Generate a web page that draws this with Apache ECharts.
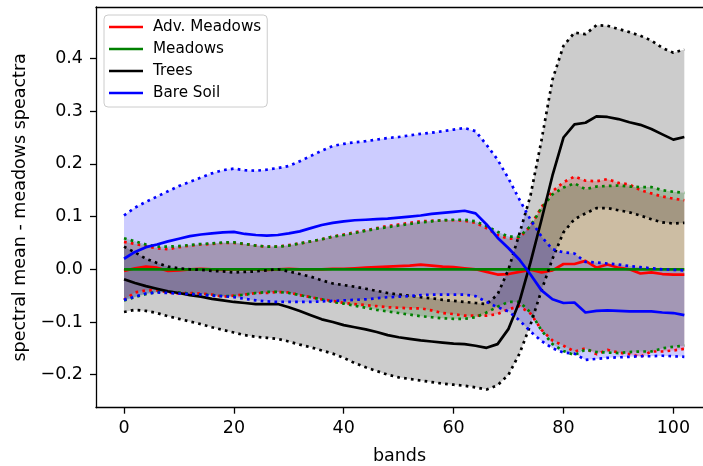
<!DOCTYPE html>
<html><head><meta charset="utf-8">
<script src="https://cdn.jsdelivr.net/npm/echarts@6/dist/echarts.min.js"></script>
<style>html,body{margin:0;padding:0;background:#fff;overflow:hidden}#c{width:703px;height:466px}</style>
</head><body><div id="c"></div>
<script>
const bands = [0,2,4,6,8,10,12,14,16,18,20,22,24,26,28,30,32,34,36,38,40,42,44,46,48,50,52,54,56,58,60,62,64,66,68,70,72,74,76,78,80,82,84,86,88,90,92,94,96,98,100,102];

const advMean = [-0.003,0.002,0.005,0.003,-0.003,-0.002,0.000,0.001,0.000,-0.001,0.000,0.000,0.000,-0.001,0.000,0.001,0.000,0.000,0.000,0.001,0.001,0.002,0.003,0.004,0.005,0.006,0.007,0.009,0.007,0.005,0.004,0.002,0.000,-0.005,-0.010,-0.009,-0.005,-0.001,-0.006,-0.002,0.010,0.010,0.016,0.003,0.009,0.003,0.000,-0.008,-0.006,-0.009,-0.010,-0.010];
const advUpper = [0.052,0.048,0.044,0.040,0.038,0.042,0.045,0.047,0.048,0.050,0.050,0.048,0.045,0.043,0.043,0.046,0.049,0.053,0.057,0.062,0.066,0.070,0.074,0.078,0.082,0.085,0.088,0.091,0.092,0.093,0.093,0.092,0.088,0.078,0.065,0.058,0.060,0.082,0.118,0.148,0.165,0.176,0.168,0.167,0.171,0.164,0.161,0.150,0.144,0.138,0.134,0.131];
const advLower = [-0.058,-0.044,-0.040,-0.040,-0.044,-0.046,-0.045,-0.046,-0.048,-0.052,-0.050,-0.048,-0.045,-0.045,-0.043,-0.044,-0.049,-0.053,-0.057,-0.060,-0.064,-0.066,-0.068,-0.070,-0.072,-0.073,-0.074,-0.074,-0.078,-0.083,-0.085,-0.088,-0.088,-0.088,-0.085,-0.076,-0.070,-0.084,-0.115,-0.135,-0.145,-0.156,-0.150,-0.161,-0.153,-0.158,-0.161,-0.166,-0.156,-0.156,-0.154,-0.151];

const meadowsMean = [0,0,0,0,0,0,0,0,0,0,0,0,0,0,0,0,0,0,0,0,0,0,0,0,0,0,0,0,0,0,0,0,0,0,0,0,0,0,0,0,0,0,0,0,0,0,0,0,0,0,0,0];
const meadowsUpper = [0.059,0.053,0.047,0.043,0.043,0.044,0.046,0.048,0.049,0.051,0.051,0.048,0.045,0.043,0.043,0.045,0.049,0.053,0.057,0.062,0.065,0.069,0.073,0.077,0.080,0.083,0.086,0.089,0.091,0.093,0.094,0.094,0.091,0.082,0.071,0.062,0.062,0.082,0.116,0.142,0.155,0.163,0.152,0.157,0.158,0.159,0.157,0.156,0.156,0.150,0.147,0.145];
const meadowsLower = [-0.059,-0.053,-0.047,-0.043,-0.043,-0.044,-0.046,-0.048,-0.049,-0.051,-0.051,-0.048,-0.045,-0.043,-0.043,-0.045,-0.049,-0.053,-0.057,-0.062,-0.065,-0.069,-0.073,-0.077,-0.080,-0.083,-0.086,-0.089,-0.091,-0.093,-0.094,-0.094,-0.091,-0.082,-0.071,-0.062,-0.062,-0.082,-0.116,-0.142,-0.155,-0.163,-0.152,-0.157,-0.158,-0.159,-0.157,-0.156,-0.156,-0.150,-0.147,-0.145];

const treesMean = [-0.019,-0.026,-0.032,-0.037,-0.042,-0.045,-0.049,-0.052,-0.056,-0.059,-0.062,-0.064,-0.066,-0.066,-0.066,-0.072,-0.079,-0.087,-0.095,-0.100,-0.106,-0.110,-0.114,-0.119,-0.125,-0.129,-0.132,-0.135,-0.137,-0.139,-0.141,-0.142,-0.145,-0.149,-0.142,-0.113,-0.061,0.013,0.094,0.178,0.250,0.275,0.278,0.290,0.289,0.285,0.279,0.274,0.266,0.256,0.246,0.251];
const treesUpper = [0.043,0.032,0.020,0.012,0.005,0.002,0.000,-0.001,-0.003,-0.004,-0.006,-0.005,-0.004,-0.002,0.000,-0.004,-0.009,-0.014,-0.021,-0.027,-0.030,-0.033,-0.037,-0.041,-0.045,-0.048,-0.050,-0.053,-0.055,-0.058,-0.060,-0.062,-0.064,-0.066,-0.048,0.000,0.068,0.140,0.245,0.360,0.424,0.449,0.446,0.463,0.462,0.456,0.450,0.443,0.434,0.420,0.411,0.417];
const treesLower = [-0.081,-0.077,-0.079,-0.083,-0.089,-0.094,-0.099,-0.104,-0.110,-0.115,-0.120,-0.125,-0.128,-0.130,-0.132,-0.137,-0.143,-0.148,-0.154,-0.160,-0.168,-0.178,-0.186,-0.193,-0.200,-0.205,-0.208,-0.211,-0.214,-0.217,-0.219,-0.221,-0.224,-0.228,-0.220,-0.200,-0.160,-0.105,-0.040,0.020,0.070,0.095,0.106,0.116,0.116,0.112,0.108,0.102,0.095,0.089,0.087,0.088];

const soilMean = [0.020,0.033,0.042,0.047,0.053,0.058,0.063,0.066,0.068,0.070,0.071,0.067,0.065,0.064,0.065,0.068,0.072,0.078,0.084,0.088,0.091,0.093,0.094,0.095,0.096,0.098,0.100,0.102,0.105,0.107,0.109,0.111,0.106,0.085,0.060,0.040,0.018,-0.010,-0.040,-0.057,-0.064,-0.063,-0.082,-0.079,-0.078,-0.079,-0.080,-0.080,-0.080,-0.082,-0.083,-0.087];
const soilUpper = [0.102,0.117,0.128,0.138,0.148,0.158,0.166,0.174,0.182,0.188,0.191,0.188,0.187,0.189,0.192,0.196,0.205,0.215,0.225,0.234,0.238,0.241,0.243,0.246,0.249,0.251,0.254,0.257,0.259,0.262,0.265,0.268,0.262,0.236,0.208,0.172,0.132,0.094,0.062,0.038,0.032,0.030,0.014,0.013,0.011,0.009,0.006,0.004,0.002,0.000,-0.001,-0.002];
const soilLower = [-0.058,-0.052,-0.046,-0.044,-0.045,-0.046,-0.047,-0.048,-0.050,-0.051,-0.053,-0.056,-0.059,-0.061,-0.062,-0.062,-0.062,-0.062,-0.061,-0.060,-0.059,-0.058,-0.057,-0.055,-0.053,-0.052,-0.051,-0.049,-0.048,-0.048,-0.048,-0.048,-0.051,-0.062,-0.072,-0.080,-0.097,-0.118,-0.136,-0.150,-0.158,-0.160,-0.172,-0.170,-0.168,-0.167,-0.166,-0.165,-0.165,-0.164,-0.165,-0.166];

const classNames = ['Adv. Meadows', 'Meadows', 'Trees', 'Bare Soil'];
const xTicks = [0, 20, 40, 60, 80, 100];
const yTicks = [-0.2, -0.1, 0.0, 0.1, 0.2, 0.3, 0.4];
const xLabel = 'bands';
const yLabel = 'spectral mean - meadows speactra';

const FONT = 'DejaVu Sans';
const classes = [
  {name: classNames[0], mean: advMean, upper: advUpper, lower: advLower, color: '#ff0000', fill: 'rgba(255,0,0,0.2)'},
  {name: classNames[1], mean: meadowsMean, upper: meadowsUpper, lower: meadowsLower, color: '#008000', fill: 'rgba(0,128,0,0.2)'},
  {name: classNames[2], mean: treesMean, upper: treesUpper, lower: treesLower, color: '#000000', fill: 'rgba(0,0,0,0.2)'},
  {name: classNames[3], mean: soilMean, upper: soilUpper, lower: soilLower, color: '#0000ff', fill: 'rgba(0,0,255,0.2)'}
];

function pairs(vals) { return bands.map((b, i) => [b, vals[i]]); }
function bandSeries(c) {
  return {
    type: 'custom', name: c.name + ' band', silent: true, z: 1,
    data: [[bands[0], c.lower[0]]], encode: {x: 0, y: 1},
    renderItem: (params, api) => {
      const pts = [];
      for (let i = 0; i < bands.length; i++) pts.push(api.coord([bands[i], c.upper[i]]));
      for (let i = bands.length - 1; i >= 0; i--) pts.push(api.coord([bands[i], c.lower[i]]));
      return {type: 'polygon', shape: {points: pts}, style: {fill: c.fill, stroke: null}};
    }
  };
}
function lineSeries(name, vals, color, dotted) {
  return {
    type: 'line', name: name, data: pairs(vals), showSymbol: false, symbol: 'none', silent: true, z: 2,
    itemStyle: {color: color},
    lineStyle: {color: color, width: 2.7, type: dotted ? [2.7, 4.2] : 'solid', cap: 'butt', join: 'round'}
  };
}

const series = [];
classes.forEach(c => series.push(bandSeries(c)));
classes.forEach(c => {
  series.push(lineSeries(c.name, c.mean, c.color, false));
  series.push(lineSeries(c.name + ' upper', c.upper, c.color, true));
  series.push(lineSeries(c.name + ' lower', c.lower, c.color, true));
});

const fmtY = v => (v < -1e-9 ? '\u2212' : '') + Math.abs(v).toFixed(1);
const axisText = {fontFamily: FONT, fontSize: 17.5, color: '#000'};
// visible part of the axes: the plot continues past the right edge of the picture
const xMin = -5.1, xMax = 105.4;

const chart = echarts.init(document.getElementById('c'), null, {renderer: 'canvas'});
chart.setOption({
  animation: false,
  backgroundColor: '#ffffff',
  grid: {left: 96, top: 7, width: 607, height: 400.7, outerBoundsMode: 'none', containLabel: false},
  legend: {
    data: classNames, orient: 'vertical', left: 104, top: 15,
    icon: 'rect', itemWidth: 34, itemHeight: 2.7, itemGap: 0,
    padding: [1, 6, 3, 5],
    backgroundColor: 'rgba(255,255,255,0.8)', borderColor: '#cccccc', borderWidth: 1, borderRadius: 4,
    textStyle: {fontFamily: FONT, fontSize: 15.2, color: '#000', lineHeight: 22, padding: [0, 0, 0, 5]},
    selectedMode: false
  },
  xAxis: [{
    type: 'value', min: xMin, max: xMax, position: 'bottom',
    axisLine: {onZero: false, lineStyle: {color: '#000', width: 1.3}},
    axisTick: {customValues: xTicks, length: 6, lineStyle: {color: '#000', width: 1.3}},
    axisLabel: Object.assign({customValues: xTicks, margin: 12}, axisText),
    splitLine: {show: false},
    name: xLabel, nameLocation: 'middle', nameGap: 40, nameTextStyle: axisText
  }, {
    type: 'value', min: xMin, max: xMax, position: 'top',
    axisLine: {onZero: false, lineStyle: {color: '#000', width: 1.3}},
    axisTick: {show: false}, axisLabel: {show: false}, splitLine: {show: false}
  }],
  yAxis: {
    type: 'value', min: -0.2626, max: 0.4976,
    axisLine: {show: true, onZero: false, lineStyle: {color: '#000', width: 1.3}},
    axisTick: {show: true, customValues: yTicks, length: 6, lineStyle: {color: '#000', width: 1.3}},
    axisLabel: Object.assign({customValues: yTicks, margin: 13, formatter: fmtY}, axisText),
    splitLine: {show: false},
    name: yLabel, nameLocation: 'middle', nameGap: 62, nameTextStyle: axisText
  },
  series: series
});
</script>
</body></html>
